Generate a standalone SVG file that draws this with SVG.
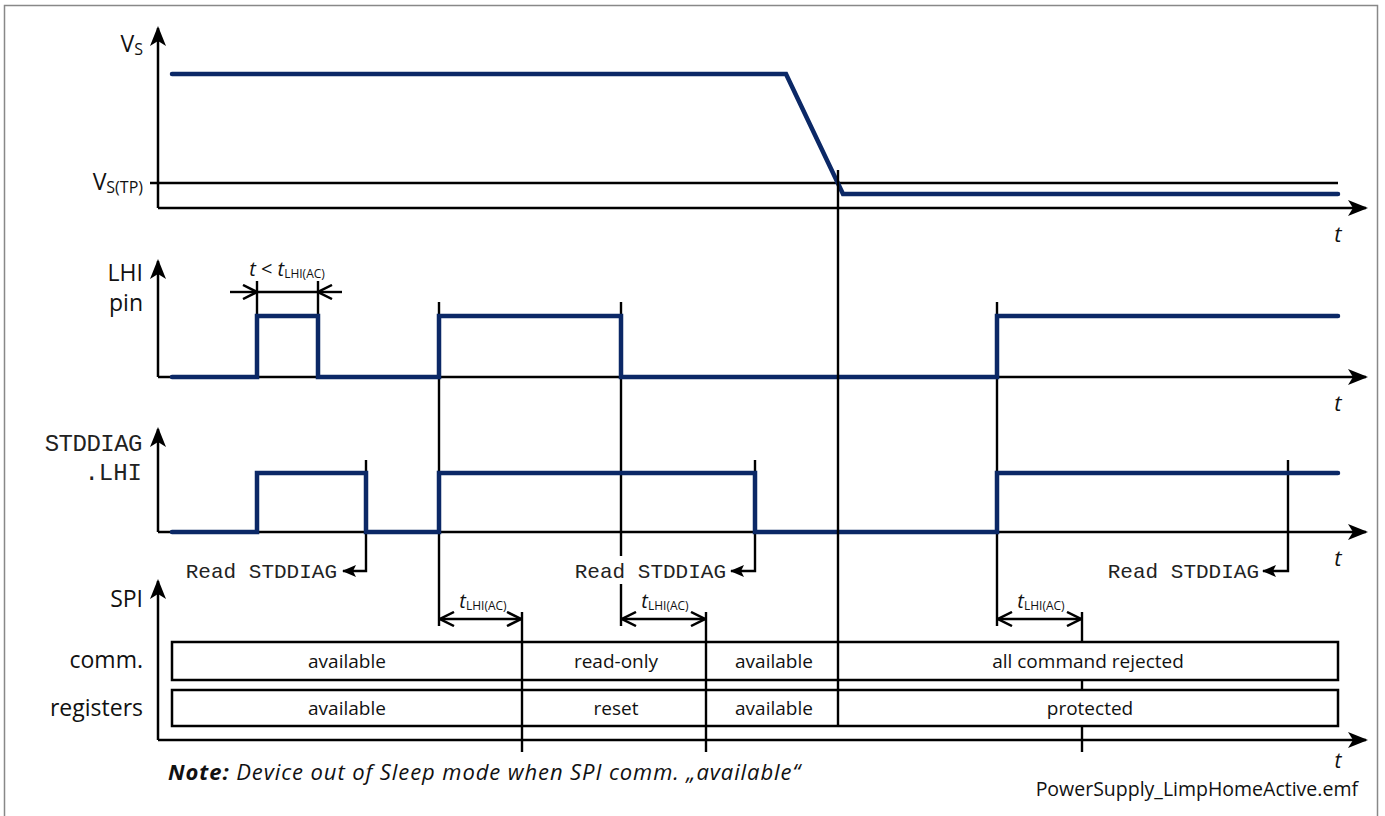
<svg xmlns="http://www.w3.org/2000/svg" width="1385" height="816" viewBox="0 0 1385 816">
<defs>
<marker id="ah" markerUnits="userSpaceOnUse" markerWidth="20" markerHeight="16" viewBox="0 0 20 16" refX="18" refY="8" orient="auto">
<path d="M0,0 L20,8 L0,16 L5,8 Z" fill="#000"/>
</marker>
<marker id="sa" markerUnits="userSpaceOnUse" markerWidth="14" markerHeight="12" viewBox="0 0 14 12" refX="13" refY="6" orient="auto">
<path d="M0,0 L14,6 L0,12 L3,6 Z" fill="#000"/>
</marker>
<marker id="ch" markerUnits="userSpaceOnUse" markerWidth="16" markerHeight="16" viewBox="0 0 16 16" refX="15" refY="8" orient="auto">
<path d="M1,1 L15,8 L1,15" fill="none" stroke="#000" stroke-width="2.5"/>
</marker>
<style>
.ax{stroke:#000;stroke-width:2.5;fill:none}
.ln{stroke:#000;stroke-width:2.4;fill:none}
.sig{stroke:#0b2866;stroke-width:4.5;fill:none;stroke-linecap:round;stroke-linejoin:miter}
.box{fill:#fff;stroke:#000;stroke-width:2.5}
.lbl{font-family:"Open Sans","Noto Sans","DejaVu Sans",sans-serif;font-size:23px;fill:#111}
.mono{font-family:"Liberation Mono","DejaVu Sans Mono",monospace;fill:#222}
.tx{font-family:"Open Sans","Noto Sans","DejaVu Sans",sans-serif;font-size:19px;fill:#111;text-anchor:middle}
.it{font-family:"Open Sans","Noto Sans","DejaVu Sans",sans-serif;font-style:italic;fill:#111}
</style>
</defs>
<rect x="4.5" y="5.5" width="1373" height="840" fill="none" stroke="#888" stroke-width="1.5"/>

<g id="axes">
<line class="ax" x1="158" y1="208" x2="158" y2="28" marker-end="url(#ah)"/>
<line class="ax" x1="158" y1="208" x2="1366" y2="208" marker-end="url(#ah)"/>
<line class="ln" x1="150" y1="183" x2="1338" y2="183"/>
<line class="ax" x1="158" y1="377" x2="158" y2="261" marker-end="url(#ah)"/>
<line class="ax" x1="158" y1="377" x2="1366" y2="377" marker-end="url(#ah)"/>
<line class="ax" x1="158" y1="532" x2="158" y2="429" marker-end="url(#ah)"/>
<line class="ax" x1="158" y1="532" x2="1366" y2="532" marker-end="url(#ah)"/>
<line class="ax" x1="158" y1="740" x2="158" y2="581" marker-end="url(#ah)"/>
<line class="ax" x1="158" y1="740" x2="1366" y2="740" marker-end="url(#ah)"/>
</g>

<g id="axis-labels">
<text class="lbl" x="143" y="52" text-anchor="end">V<tspan font-size="16" dy="3">S</tspan></text>
<text class="lbl" x="143" y="190" text-anchor="end">V<tspan font-size="16" dy="3">S(TP)</tspan></text>
<text class="lbl" x="143" y="281" text-anchor="end">LHI</text>
<text class="lbl" x="143" y="311" text-anchor="end">pin</text>
<text class="mono" x="142" y="451" text-anchor="end" font-size="24" letter-spacing="-0.5">STDDIAG</text>
<text class="mono" x="142" y="480" text-anchor="end" font-size="24">.LHI</text>
<text class="lbl" x="143" y="607" text-anchor="end">SPI</text>
<text class="lbl" x="143" y="668" text-anchor="end">comm.</text>
<text class="lbl" x="143" y="716" text-anchor="end">registers</text>
<text class="it" x="1338" y="242" font-size="22" text-anchor="middle">t</text>
<text class="it" x="1338" y="411" font-size="22" text-anchor="middle">t</text>
<text class="it" x="1338" y="566" font-size="22" text-anchor="middle">t</text>
<text class="it" x="1338" y="768" font-size="21" text-anchor="middle">t</text>
</g>

<g id="connectors">
<line class="ln" x1="439" y1="302" x2="439" y2="626"/>
<line class="ln" x1="621" y1="302" x2="621" y2="556"/>
<line class="ln" x1="621" y1="584" x2="621" y2="626"/>
<line class="ln" x1="997" y1="302" x2="997" y2="626"/>
<line class="ln" x1="1082" y1="612" x2="1082" y2="752"/>
<line class="ln" x1="257" y1="281" x2="257" y2="316"/>
<line class="ln" x1="318" y1="281" x2="318" y2="316"/>
<line class="ln" x1="230" y1="292" x2="257" y2="292" marker-end="url(#ch)"/>
<line class="ln" x1="342" y1="292" x2="318" y2="292" marker-end="url(#ch)"/>
<line class="ln" x1="257" y1="292" x2="318" y2="292"/>
<line class="ln" x1="480" y1="619" x2="440" y2="619" marker-end="url(#ch)"/>
<line class="ln" x1="480" y1="619" x2="521" y2="619" marker-end="url(#ch)"/>
<line class="ln" x1="663" y1="619" x2="622" y2="619" marker-end="url(#ch)"/>
<line class="ln" x1="663" y1="619" x2="705" y2="619" marker-end="url(#ch)"/>
<line class="ln" x1="1040" y1="619" x2="998" y2="619" marker-end="url(#ch)"/>
<line class="ln" x1="1040" y1="619" x2="1081" y2="619" marker-end="url(#ch)"/>
<path class="ln" d="M366,460 V571 H343" marker-end="url(#sa)"/>
<path class="ln" d="M755,460 V571 H731" marker-end="url(#sa)"/>
<path class="ln" d="M1288,460 V571 H1263" marker-end="url(#sa)"/>
</g>

<g id="signals">
<polyline class="sig" points="172,74 786,74 843,194 1338,194"/>
<polyline class="sig" points="172,377 257,377 257,316 318,316 318,377 439,377 439,316 621,316 621,377 997,377 997,316 1338,316"/>
<polyline class="sig" points="172,532 257,532 257,473 366,473 366,532 439,532 439,473 755,473 755,532 997,532 997,473 1338,473"/>
</g>

<g id="labels">
<text class="it" x="287" y="276" font-size="20" text-anchor="middle">t<tspan font-style="normal"> &lt; </tspan>t<tspan font-style="normal" font-size="12" dy="2">LHI(AC)</tspan></text>
<text class="it" x="483" y="608" font-size="20" text-anchor="middle">t<tspan font-style="normal" font-size="12" dy="2">LHI(AC)</tspan></text>
<text class="it" x="665" y="608" font-size="20" text-anchor="middle">t<tspan font-style="normal" font-size="12" dy="2">LHI(AC)</tspan></text>
<text class="it" x="1041" y="608" font-size="20" text-anchor="middle">t<tspan font-style="normal" font-size="12" dy="2">LHI(AC)</tspan></text>
<text class="mono" x="337" y="578" text-anchor="end" font-size="21">Read STDDIAG</text>
<text class="mono" x="726" y="578" text-anchor="end" font-size="21">Read STDDIAG</text>
<text class="mono" x="1259" y="578" text-anchor="end" font-size="21">Read STDDIAG</text>
</g>

<g id="spi-comm">
<rect class="box" x="172" y="642" width="1166" height="38"/>
<text class="tx" x="347" y="668">available</text>
<text class="tx" x="616" y="668">read-only</text>
<text class="tx" x="774" y="668">available</text>
<text class="tx" x="1088" y="668">all command rejected</text>
</g>
<g id="spi-registers">
<rect class="box" x="172" y="690" width="1166" height="36"/>
<text class="tx" x="347" y="715">available</text>
<text class="tx" x="616" y="715">reset</text>
<text class="tx" x="774" y="715">available</text>
<text class="tx" x="1090" y="715">protected</text>
</g>

<g id="dividers">
<line class="ln" x1="522" y1="612" x2="522" y2="752"/>
<line class="ln" x1="706" y1="612" x2="706" y2="752"/>
<line class="ln" x1="838" y1="170" x2="838" y2="726"/>
</g>

<g id="notes">
<text class="it" x="168" y="780" font-size="22" textLength="632" lengthAdjust="spacing"><tspan font-weight="bold">Note:</tspan> Device out of Sleep mode when SPI comm. „available“</text>
<text x="1358" y="796" text-anchor="end" font-family="'Open Sans','Noto Sans',sans-serif" font-size="19.5" fill="#111">PowerSupply_LimpHomeActive.emf</text>
</g>
</svg>
